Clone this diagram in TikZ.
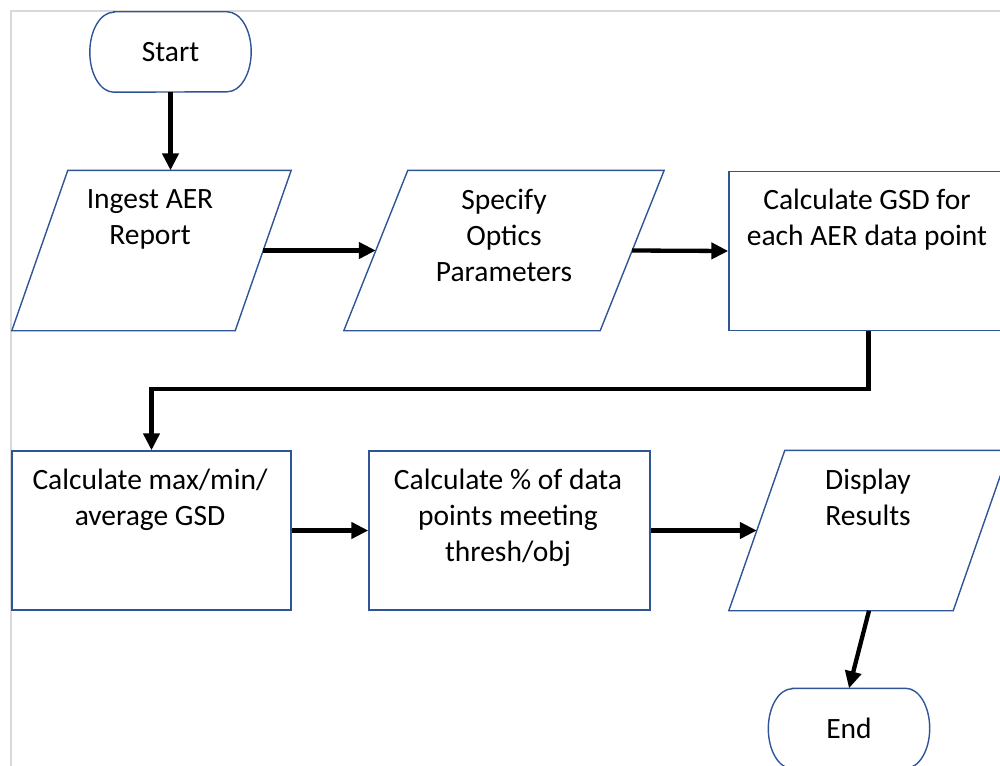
\documentclass[tikz,border=0pt]{standalone}
\usepackage{fontspec}
\setmainfont{Carlito}
\usetikzlibrary{arrows.meta,calc}
\definecolor{shapeblue}{HTML}{2F5597}
\definecolor{framegray}{HTML}{D9D9D9}
\newcommand\flowfont{\fontsize{29.5}{36}\selectfont}
\newcommand\parashape[2]{\draw[flow] (#1.south west) -- ($(#1.north west)+(#2,0)$) -- (#1.north east) -- ($(#1.south east)-(#2,0)$) -- cycle;}
\newcommand\termshape[1]{\draw[flow] ($(#1.north west)+(24,0)$) -- ($(#1.north east)-(24,0)$) arc[start angle=90,end angle=-90,x radius=24pt,y radius=40pt] -- ($(#1.south west)+(24,0)$) arc[start angle=270,end angle=90,x radius=24pt,y radius=40pt] -- cycle;}
\begin{document}
\begin{tikzpicture}[x=1pt,y=-1pt,
  flow/.style={draw=shapeblue, line width=1.4pt},
  procbox/.style={rectangle, flow, inner sep=0, minimum height=159pt},
  pbound/.style={rectangle, draw=none, inner sep=0, minimum height=160pt},
  term/.style={rectangle, draw=none, inner sep=0, minimum width=161pt, minimum height=80pt, font=\flowfont},
  txt/.style={anchor=north, inner sep=0, align=center, font=\flowfont, execute at begin node=\strut},
  conn/.style={line width=4.3pt, -{Triangle[length=17pt,width=16pt]}}]
\useasboundingbox (0,0) rectangle (1000,765);
\clip (0,0) rectangle (1000,765);
\draw[framegray, line width=2pt] (11,11) rectangle (1020,790);

% nodes
\node[term] (start) at (170.5,52) {Start};
\termshape{start}
\node[pbound, minimum width=279pt] (ingest) at (151.5,250.5) {};
\parashape{ingest}{56}
\node[txt] (ingestT) at (150,189) {Ingest AER\\Report};
\node[pbound, minimum width=320pt] (specify) at (504,250.5) {};
\parashape{specify}{64}
\node[txt] (specifyT) at (504,189) {Specify\\Optics\\Parameters};
\node[procbox, minimum width=279pt] (gsd) at (868.5,251) {};
\node[txt] (gsdT) at (867,189) {Calculate GSD for\\each AER data point};
\node[procbox, minimum width=279pt] (maxmin) at (151.5,530.5) {};
\node[txt] (maxminT) at (150,469) {Calculate max/min/\\average GSD};
\node[procbox, minimum width=281pt] (pct) at (509.5,530.5) {};
\node[txt] (pctT) at (508,469) {Calculate \% of data\\points meeting\\thresh/obj};
\node[pbound, minimum width=280pt] (display) at (869,530.5) {};
\parashape{display}{56}
\node[txt] (displayT) at (868,469) {Display\\Results};
\node[term] (end) at (849,728.5) {End};
\termshape{end}

% connectors
\draw[conn] (start.south) -- (start.south |- ingest.north);
\draw[conn] ([xshift=-28pt]ingest.east) -- ([xshift=32pt]specify.west);
\draw[conn] ([xshift=-32pt]specify.east) -- (gsd.west);
\draw[conn] (gsd.south) -- ++(0,58) -| (maxmin.north);
\draw[conn] (maxmin.east) -- (pct.west);
\draw[conn] (pct.east) -- ([xshift=28pt]display.west);
\draw[conn] (display.south) -- (end.north);
\end{tikzpicture}
\end{document}
